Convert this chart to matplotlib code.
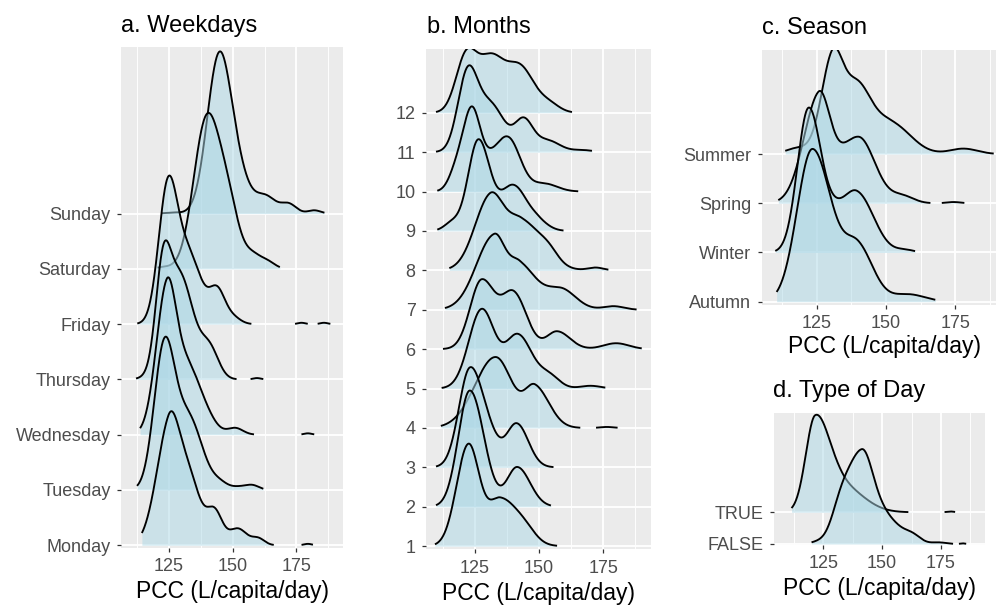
import numpy as np
import matplotlib
matplotlib.use("Agg")
import matplotlib.pyplot as plt

plt.rcParams['font.family'] = ['Liberation Sans', 'DejaVu Sans']

# Each ridge is described by its data range (lo, hi) and a list of modes
# (centre, left spread, right spread, height in row units) of its density.

weekday_labels = ["Monday", "Tuesday", "Wednesday", "Thursday", "Friday", "Saturday", "Sunday"]
weekday_span = [(114.3, 181.5), (112.4, 162.0), (113.6, 182.0), (112.0, 162.5),
                (112.5, 188.5), (120.5, 168.5), (122.0, 186.0)]
weekday_modes = [
    [(124.7, 5.0, 3.8, 1.9), (132, 5, 5, 1.3), (143, 3, 3, 0.55), (152, 3.5, 3.5, 0.3),
     (160, 2.5, 2.5, 0.12), (179.5, 1.5, 1.5, 0.025)],
    [(123, 4, 4, 2.45), (132.5, 5.5, 5.5, 1.3), (145, 3, 3, 0.1), (153, 3.5, 3.5, 0.06),
     (158, 2.5, 2.5, 0.07)],
    [(124, 4.2, 3.6, 2.48), (132, 5, 5, 1.2), (140, 4, 4, 0.2), (151, 3, 3, 0.12),
     (179.5, 1.5, 1.5, 0.025)],
    [(122.5, 2.8, 2.8, 1.45), (129, 5.5, 5.5, 1.9), (141, 3.5, 3.5, 0.5), (159.5, 1.5, 1.5, 0.025)],
    [(124.3, 3.6, 3.6, 2.15), (132, 5.5, 5.5, 1.3), (144, 3, 3, 0.55), (150, 3, 3, 0.12),
     (177, 1.5, 1.5, 0.025), (185.8, 1.5, 1.5, 0.025)],
    [(123, 3, 3, 0.03), (139.5, 5, 5, 2.6), (148, 4.5, 4.5, 1.1), (158, 3, 3, 0.2),
     (163.5, 3, 3, 0.13)],
    [(126.5, 3, 3, 0.02), (144.3, 4.6, 4.6, 2.6), (151, 5, 5, 0.75), (163, 4, 4, 0.3),
     (172, 3, 3, 0.17), (182, 2.5, 2.5, 0.06)],
]

month_labels = [str(m) for m in range(1, 13)]
month_span = [(109.4, 157.0), (109.8, 154.6), (109.8, 155.6), (111.7, 181.6), (112.0, 175.8),
              (112.0, 190.0), (113.3, 188.0), (115.0, 177.0), (110.3, 159.5), (110.3, 166.3),
              (109.8, 170.6), (109.8, 162.8)]
month_modes = [
    [(122.4, 4.6, 4.2, 2.55), (135, 5, 7, 1.2), (145, 4, 4, 0.2)],
    [(123, 4.5, 5.5, 2.95), (141.5, 4, 5, 1.0)],
    [(123, 4.3, 5, 2.47), (131, 4, 4, 0.5), (141.3, 4, 4.5, 1.1)],
    [(133, 8, 6.5, 1.8), (148.5, 4, 5.5, 1.0), (176.4, 2.5, 2.5, 0.025)],
    [(127.6, 5, 5, 2.0), (141.8, 5, 5.5, 1.35), (154, 4, 4, 0.3), (170, 4, 4, 0.07)],
    [(127.6, 4.5, 5.5, 1.75), (140.3, 4.5, 5, 1.35), (157, 4, 5, 0.45), (180, 5, 5, 0.15)],
    [(132.5, 7, 4.5, 1.88), (142.5, 4, 5.5, 1.0), (158, 8, 6, 0.55), (179, 4, 4, 0.09)],
    [(130.8, 6, 5, 1.8), (143, 6, 8, 1.25), (154, 3.5, 3.5, 0.2), (172, 3, 3, 0.07)],
    [(116, 3, 3, 0.2), (126.3, 4, 4.5, 2.3), (140, 5, 5.5, 1.15), (150, 3, 4, 0.15)],
    [(118, 3, 3, 0.55), (123.6, 3.2, 3.2, 1.75), (130, 5, 5, 0.7), (138.5, 4.5, 4.5, 1.2),
     (152, 5, 5, 0.2)],
    [(122, 3.8, 3.8, 1.85), (131, 5.5, 5.5, 1.2), (144, 3.5, 3.5, 0.75), (153, 5, 5, 0.3),
     (167, 4, 4, 0.05)],
    [(121.5, 4, 4, 1.38), (131, 5, 5, 1.3), (142.5, 5.5, 5.5, 1.15), (154, 4, 4, 0.2)],
]

season_labels = ["Autumn", "Winter", "Spring", "Summer"]
season_span = [(110.5, 167.8), (110.0, 160.5), (111.1, 178.3), (113.6, 188.9)]
season_modes = [
    [(123.4, 5.5, 7, 3.1), (140, 5, 5.5, 1.05), (158, 6, 6, 0.15)],
    [(122, 4, 4.5, 2.9), (131, 4, 4, 0.5), (139.5, 5, 6, 1.2), (157, 3, 3, 0.05)],
    [(125.6, 5.5, 4, 2.0), (140, 8, 6, 1.35), (156, 4, 4, 0.14), (174.4, 2.5, 2.5, 0.025)],
    [(118, 4, 4, 0.12), (130.4, 4, 3.5, 1.6), (139, 6, 5.5, 1.4), (152, 6, 7, 0.6),
     (178, 5, 5, 0.11)],
]

daytype_labels = ["FALSE", "TRUE"]
daytype_span = [(120.0, 186.0), (111.5, 181.0)]
daytype_modes = [
    [(122, 2.5, 2.5, 0.03), (132, 3.5, 3.5, 0.5), (141.3, 7, 5, 2.9), (152, 5, 6, 0.75),
     (163, 3.5, 3.5, 0.22), (174, 3, 3, 0.05), (184.2, 1, 1, 0.02)],
    [(121.5, 4, 6, 2.85), (133, 7, 9, 0.8), (179, 1.5, 1.5, 0.025)],
]

x_ticks = [125, 150, 175]
x_minor = [112.5, 137.5, 162.5, 187.5]
x_title = "PCC (L/capita/day)"

FILL = "#ADD8E6"
BG = "#EBEBEB"
W, H = 996, 605


def density(x, modes):
    y = np.zeros_like(x)
    for mu, sl, sr, h in modes:
        s = np.where(x < mu, sl, sr)
        y += h * np.exp(-0.5 * ((x - mu) / s) ** 2)
    return y


def box(l, r, t, b):
    return [l / W, 1 - b / H, (r - l) / W, (b - t) / H]


def ridges(ax, labels, spans, modes, xlim, ylim):
    ax.set_facecolor(BG)
    for s in ax.spines.values():
        s.set_visible(False)
    ax.set_axisbelow(True)
    n = len(labels)
    for k, i in enumerate(reversed(range(n))):
        lo, hi = spans[i]
        x = np.linspace(lo, hi, 900)
        d = density(x, modes[i])
        base = i + 1
        ax.fill_between(x, base, base + d, color=FILL, alpha=0.5, lw=0, zorder=3 + 2 * k)
        yl = np.where(d > 0.006, base + d, np.nan)
        ax.plot(x, yl, color="black", lw=1.35, zorder=4 + 2 * k, solid_capstyle="butt")
    ax.set_xlim(*xlim)
    ax.set_ylim(*ylim)
    ax.set_xticks(x_ticks)
    ax.set_xticklabels([str(t) for t in x_ticks])
    ax.set_xticks(x_minor, minor=True)
    ax.set_yticks(range(1, n + 1))
    ax.set_yticklabels(labels)
    ax.grid(True, which="major", color="white", lw=1.3)
    ax.grid(True, which="minor", axis="x", color="white", lw=0.65)
    ax.tick_params(which="major", length=3, width=0.9, color="#333333", pad=4.5,
                   labelsize=13, labelcolor="#4D4D4D")
    ax.tick_params(which="minor", length=0)


fig = plt.figure(figsize=(W / 100, H / 100), dpi=100)

ax_a = fig.add_axes(box(121, 343, 46.7, 548))
ridges(ax_a, weekday_labels, weekday_span, weekday_modes, (106.1, 193.3), (0.95, 10.02))

ax_b = fig.add_axes(box(426, 650.7, 49.3, 549.3))
ridges(ax_b, month_labels, month_span, month_modes, (105.9, 193.5), (0.92, 13.61))

ax_c = fig.add_axes(box(761.7, 1007, 50, 304.5))
ridges(ax_c, season_labels, season_span, season_modes, (105.1, 193.7), (0.943, 6.114))

ax_d = fig.add_axes(box(774, 985, 413.3, 545))
ridges(ax_d, daytype_labels, daytype_span, daytype_modes, (104.05, 193.7), (0.968, 5.12))

titles = [("a. Weekdays", 121, 31.7), ("b. Months", 426.5, 32.7),
          ("c. Season", 762, 34.3), ("d. Type of Day", 773, 397.3)]
for txt, px, py in titles:
    fig.text(px / W, 1 - py / H, txt, ha="left", va="baseline", fontsize=17, color="black")

xlabels = [(232, 598.3), (538.4, 600), (884.4, 353.3), (879.5, 595)]
for px, py in xlabels:
    fig.text(px / W, 1 - py / H, x_title, ha="center", va="baseline", fontsize=16.5, color="black")

fig.savefig("out.png", dpi=100)
